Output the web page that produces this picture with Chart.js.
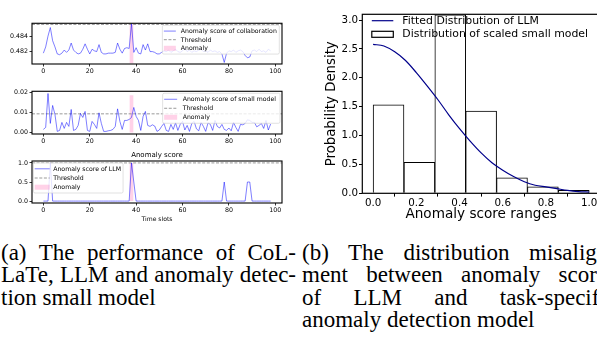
<!DOCTYPE html>
<html>
<head>
<meta charset="utf-8">
<script src="https://cdn.jsdelivr.net/npm/chart.js@4"></script>
<style>
  html, body { margin: 0; padding: 0; background: #fff; }
  #sahne { position: relative; width: 597px; height: 343px; overflow: hidden; background: #fff; }
  canvas { position: absolute; }
  .alt { position: absolute; font-family: "Liberation Serif", serif; font-size: 23px; line-height: 22.3px; color: #000; }
  .alt div { white-space: nowrap; }
  .alt .j { text-align: justify; text-align-last: justify; white-space: normal; }
</style>
</head>
<body>
<div id="sahne">
  <canvas id="c1" width="290" height="62" style="left:0;top:18px"></canvas>
  <canvas id="c2" width="290" height="62" style="left:0;top:86px"></canvas>
  <canvas id="c3" width="290" height="78" style="left:0;top:148px"></canvas>
  <canvas id="c4" width="300" height="225" style="left:300px;top:0"></canvas>
  <div class="alt" style="left:1px;top:242px;width:295px">
    <div class="j">(a) The performance of CoL-</div>
    <div class="j">LaTe, LLM and anomaly detec-</div>
    <div>tion small model</div>
  </div>
  <div class="alt" style="left:302px;top:242px;width:314px">
    <div class="j">(b) The distribution misalign-</div>
    <div class="j">ment between anomaly scores</div>
    <div class="j">of LLM and task-specific</div>
    <div>anomaly detection model</div>
  </div>
</div>
<script>
// zaman adimlari 0..98
const zamanAdimlari = Array.from({length: 99}, (_, i) => i);

const isbirligiSkoru = [
  0.4818, 0.4826, 0.4840, 0.4851, 0.4834, 0.4826, 0.4817, 0.4816, 0.4818, 0.4822,
  0.4819, 0.4822, 0.4831, 0.4822, 0.4819, 0.4817, 0.4818, 0.4823, 0.4830, 0.4823,
  0.4817, 0.4823, 0.4821, 0.4820, 0.4829, 0.4819, 0.4817, 0.4817, 0.4818, 0.4818,
  0.4818, 0.4819, 0.4831, 0.4823, 0.4818, 0.4824, 0.4825, 0.4824, 0.4856, 0.4819,
  0.4825, 0.4818, 0.4817, 0.4829, 0.4822, 0.4830, 0.4820, 0.4820, 0.4819, 0.4817,
  0.4817, 0.4819, 0.4821, 0.4820, 0.4822, 0.4819, 0.4821, 0.4823, 0.4820, 0.4819,
  0.4821, 0.4824, 0.4820, 0.4822, 0.4819, 0.4821, 0.4820, 0.4822, 0.4823, 0.4820,
  0.4821, 0.4819, 0.4822, 0.4820, 0.4821, 0.4819, 0.4820, 0.4817, 0.4806, 0.4818,
  0.4821, 0.4820, 0.4822, 0.4819, 0.4821, 0.4822, 0.4820, 0.4815, 0.4812, 0.4813,
  0.4821, 0.4822, 0.4820, 0.4823, 0.4820, 0.4821, 0.4819, 0.4823, 0.4821
];
const kucukModelSkoru = [
  0.0015, 0.0025, 0.0195, 0.0045, 0.0135, 0.0090, 0.0005, 0.0010, 0.0050, 0.0020,
  0.0050, 0.0030, 0.0115, 0.0010, 0.0015, 0.0035, 0.0095, 0.0075, 0.0105, 0.0010,
  0.0005, 0.0055, 0.0040, 0.0020, 0.0098, 0.0045, 0.0005, 0.0005, 0.0008, 0.0010,
  0.0015, 0.0030, 0.0118, 0.0055, 0.0015, 0.0060, 0.0060, 0.0065, 0.0075, 0.0125,
  0.0080, 0.0060, 0.0010, 0.0080, 0.0105, 0.0035, 0.0030, 0.0038, 0.0032, 0.0005,
  0.0012, 0.0030, 0.0045, 0.0010, 0.0005, 0.0040, 0.0015, 0.0048, 0.0010, 0.0040,
  0.0055, 0.0012, 0.0035, 0.0005, 0.0045, 0.0055, 0.0018, 0.0008, 0.0050, 0.0030,
  0.0005, 0.0048, 0.0040, 0.0010, 0.0060, 0.0030, 0.0022, 0.0040, 0.0015, 0.0010,
  0.0022, 0.0008, 0.0050, 0.0025, 0.0005, 0.0040, 0.0038, 0.0045, 0.0063, 0.0060,
  0.0050, 0.0050, 0.0028, 0.0035, 0.0045, 0.0020, 0.0060, 0.0012, 0.0042
];
const llmSkoru = [
  0, 0, 0, 1, 0, 0, 0, 0, 0, 0,
  0, 0, 0, 0, 0, 0, 0, 0, 0, 0,
  0, 0, 0, 0, 0, 0, 0, 0, 0, 0,
  0, 0, 0, 0, 0, 0, 0, 0, 1, 0.5,
  0, 0, 0, 0, 0, 0, 0, 0, 0, 0,
  0, 0, 0, 0, 0, 0, 0, 0, 0, 0,
  0, 0, 0, 0, 0, 0, 0, 0, 0, 0,
  0, 0, 0, 0, 0, 0, 0, 0, 0.5, 0,
  0, 0, 0, 0, 0, 0, 0, 0, 0.5, 0.5,
  0, 0, 0, 0, 0, 0, 0, 0, 0
];
const esikDegerleri = [0.4855, 0.0093, 1.0];
const anomaliAraligi = [37.1, 38.9];
const anomaliDikey = [[0.4805, 0.4856], [0, 0.0186], [0, 1.0]];

const zamanEksenAraligi = [-4.9, 102.9];
const zamanTikleri = [0, 20, 40, 60, 80, 100];
const y1Araligi = [0.4804, 0.48565];
const y1Tikleri = [0.482, 0.484];
const y2Araligi = [-0.0008, 0.0206];
const y2Tikleri = [0, 0.01, 0.02];
const y3Araligi = [-0.05, 1.05];
const y3Tikleri = [0, 0.5, 1.0];

// sag grafik: histogram + uydurulmus egri
const kutuKenarlari = [0, 1/7, 2/7, 3/7, 4/7, 5/7, 6/7, 1];
const kutuYogunluklari = [1.53, 0.537, 3.09, 1.426, 0.27, 0.114, 0.052];
const egriX = [0, 0.05, 0.1, 0.15, 0.2, 0.25, 0.3, 0.35, 0.4, 0.45, 0.5, 0.55, 0.6, 0.65, 0.7, 0.75, 0.8, 0.85, 0.9, 0.95, 1.0];
const egriY = [2.58, 2.55, 2.45, 2.30, 2.09, 1.86, 1.62, 1.36, 1.12, 0.90, 0.70, 0.53, 0.40, 0.29, 0.20, 0.14, 0.11, 0.08, 0.05, 0.03, 0.02];
const skorTikleri = [0, 0.2, 0.4, 0.6, 0.8, 1.0];
const yogunlukTikleri = [0, 0.5, 1.0, 1.5, 2.0, 2.5, 3.0];

const MAVI = 'rgba(0,0,255,0.5)';
const PEMBE = 'rgba(255,105,180,0.3)';
const GRI = '#808080';

Chart.defaults.font.family = 'DejaVu Sans';
Chart.defaults.color = '#000';

// grafik alaninin etrafina siyah cerceve
const cerceve = {
  id: 'cerceve',
  afterDraw(chart, args, opts) {
    const {left, top, right, bottom} = chart.chartArea;
    const ctx = chart.ctx;
    ctx.save();
    ctx.strokeStyle = '#000';
    ctx.lineWidth = opts.lw || 1;
    ctx.strokeRect(left, top, right - left, bottom - top);
    ctx.restore();
  }
};

// matplotlib tarzi, grafik icinde kutulu lejant
const kutuLejant = {
  id: 'kutuLejant',
  afterDatasetsDraw(chart, args, o) {
    if (!o.items) return;
    const ctx = chart.ctx;
    const ca = chart.chartArea;
    ctx.save();
    ctx.font = `${o.fontSize}px "DejaVu Sans"`;
    let maxW = 0;
    o.items.forEach(it => { maxW = Math.max(maxW, ctx.measureText(it.label).width); });
    const w = o.pad + o.handle + o.gap + maxW + o.padR;
    const h = o.pad * 2 + o.rowH * o.items.length;
    const x0 = o.side === 'right' ? ca.right - o.dx - w : ca.left + o.dx;
    const y0 = ca.top + o.dy;
    if (o.frame) {
      ctx.fillStyle = 'rgba(255,255,255,0.8)';
      ctx.strokeStyle = '#cccccc';
      ctx.lineWidth = 0.6;
      ctx.beginPath();
      ctx.roundRect(x0, y0, w, h, 1.5);
      ctx.fill();
      ctx.stroke();
    }
    o.items.forEach((it, i) => {
      const cy = y0 + o.pad + o.rowH * (i + 0.5);
      const hx = x0 + o.pad;
      if (it.type === 'line') {
        ctx.strokeStyle = it.color;
        ctx.lineWidth = it.lw || 1;
        ctx.setLineDash(it.dash || []);
        ctx.beginPath();
        ctx.moveTo(hx, cy);
        ctx.lineTo(hx + o.handle, cy);
        ctx.stroke();
        ctx.setLineDash([]);
      } else {
        const ph = it.ph || o.rowH * 0.7;
        if (it.fill) { ctx.fillStyle = it.fill; ctx.fillRect(hx, cy - ph / 2, o.handle, ph); }
        if (it.stroke) { ctx.strokeStyle = it.stroke; ctx.lineWidth = it.lw || 1; ctx.strokeRect(hx, cy - ph / 2, o.handle, ph); }
      }
      ctx.fillStyle = '#000';
      ctx.textBaseline = 'middle';
      ctx.textAlign = 'left';
      ctx.fillText(it.label, hx + o.handle + o.gap, cy + 0.3);
    });
    ctx.restore();
  }
};

Chart.register(cerceve, kutuLejant);

function tikler(liste) {
  return axis => { axis.ticks = liste.map(v => ({value: v})); };
}

function solEksenler(yAraligi, yTikleri, basamak, xYukseklik, xBaslik) {
  return {
    x: {
      type: 'linear', min: zamanEksenAraligi[0], max: zamanEksenAraligi[1], offset: false,
      afterBuildTicks: tikler(zamanTikleri),
      afterFit: s => { s.height = xYukseklik; },
      grid: {drawOnChartArea: false, drawTicks: true, tickLength: 2.5, color: '#000', lineWidth: 0.8},
      border: {display: false},
      ticks: {font: {size: 6.3}, padding: 1, maxRotation: 0, autoSkip: false, callback: v => String(v)},
      title: xBaslik ? {display: true, text: xBaslik, font: {size: 6.1}, padding: {top: 0, bottom: 3.3}} : {display: false}
    },
    y: {
      min: yAraligi[0], max: yAraligi[1],
      afterBuildTicks: tikler(yTikleri),
      afterFit: s => { s.width = 32; },
      grid: {drawOnChartArea: false, drawTicks: true, tickLength: 2.5, color: '#000', lineWidth: 0.8},
      border: {display: false},
      ticks: {font: {size: 6.3}, padding: 1.5, autoSkip: false, callback: v => v.toFixed(basamak)}
    }
  };
}

function solVeri(seri, idx) {
  return {
    datasets: [
      {
        data: seri.map((v, i) => ({x: zamanAdimlari[i], y: v})),
        borderColor: MAVI, borderWidth: 1, pointRadius: 0, tension: 0, order: 1
      },
      {
        data: zamanEksenAraligi.map(x => ({x: x, y: esikDegerleri[idx]})),
        borderColor: GRI, borderWidth: 0.8, borderDash: [3, 1.6], pointRadius: 0, order: 2
      },
      {
        data: anomaliAraligi.map(x => ({x: x, y: anomaliDikey[idx][1]})),
        fill: {value: anomaliDikey[idx][0]}, backgroundColor: PEMBE,
        borderWidth: 0, pointRadius: 0, order: 3
      }
    ]
  };
}

function lejantOgeleri(ad) {
  return [
    {type: 'line', color: MAVI, lw: 1, label: ad},
    {type: 'line', color: GRI, lw: 0.8, dash: [3, 1.6], label: 'Threshold'},
    {type: 'patch', fill: PEMBE, ph: 5, label: 'Anomaly'}
  ];
}

new Chart(document.getElementById('c1'), {
  type: 'line',
  data: solVeri(isbirligiSkoru, 0),
  options: {
    responsive: false, animation: false,
    layout: {padding: {top: 5, right: 8, left: 0, bottom: 0}},
    scales: solEksenler(y1Araligi, y1Tikleri, 3, 16, null),
    plugins: {
      legend: {display: false}, tooltip: {enabled: false},
      cerceve: {lw: 1.1},
      kutuLejant: {items: lejantOgeleri('Anomaly score of collaboration'), fontSize: 6.2, rowH: 8.6,
        pad: 1.5, padR: 2.5, handle: 12, gap: 5, side: 'right', dx: 2.7, dy: 2, frame: true}
    }
  }
});

new Chart(document.getElementById('c2'), {
  type: 'line',
  data: solVeri(kucukModelSkoru, 1),
  options: {
    responsive: false, animation: false,
    layout: {padding: {top: 5, right: 8, left: 0, bottom: 0}},
    scales: solEksenler(y2Araligi, y2Tikleri, 2, 14, null),
    plugins: {
      legend: {display: false}, tooltip: {enabled: false},
      cerceve: {lw: 1.1},
      kutuLejant: {items: lejantOgeleri('Anomaly score of small model'), fontSize: 6.2, rowH: 9,
        pad: 1.5, padR: 4, handle: 13, gap: 5.5, side: 'right', dx: 2, dy: 2, frame: true}
    }
  }
});

new Chart(document.getElementById('c3'), {
  type: 'line',
  data: solVeri(llmSkoru, 2),
  options: {
    responsive: false, animation: false,
    layout: {padding: {top: 0, right: 8, left: 0, bottom: 0}},
    scales: solEksenler(y3Araligi, y3Tikleri, 1, 23, 'Time slots'),
    plugins: {
      legend: {display: false}, tooltip: {enabled: false},
      title: {display: true, text: 'Anomaly score', fullSize: false, font: {size: 7, weight: 'normal'},
        color: '#000', padding: {top: 2.8, bottom: 1.8}},
      cerceve: {lw: 1.1},
      kutuLejant: {items: lejantOgeleri('Anomaly score of LLM'), fontSize: 6.2, rowH: 9.2,
        pad: 1.2, padR: 2, handle: 15, gap: 3.5, side: 'left', dx: 1.5, dy: 2, frame: true}
    }
  }
});

// histogram cubuklari kutu merkezlerinde
const kutuVerisi = kutuYogunluklari.map((y, i) => ({x: (kutuKenarlari[i] + kutuKenarlari[i + 1]) / 2, y: y}));

new Chart(document.getElementById('c4'), {
  type: 'bar',
  data: {
    datasets: [
      {
        type: 'bar', data: kutuVerisi,
        backgroundColor: '#ffffff', borderColor: '#000', borderWidth: 1,
        barPercentage: 1, categoryPercentage: 1, grouped: false, order: 2
      },
      {
        type: 'line', data: egriX.map((x, i) => ({x: x, y: egriY[i]})),
        borderColor: '#00008b', borderWidth: 1.2, pointRadius: 0, cubicInterpolationMode: 'monotone', order: 1
      }
    ]
  },
  options: {
    responsive: false, animation: false,
    layout: {padding: {top: 14.3, right: 0, left: 0, bottom: 0}},
    scales: {
      x: {
        type: 'linear', min: -0.05, max: 1.05, offset: false,
        afterBuildTicks: tikler(skorTikleri),
        afterFit: s => { s.height = 31.7; },
        grid: {drawOnChartArea: false, drawTicks: true, tickLength: 3.3, color: '#000', lineWidth: 1},
        border: {display: false},
        ticks: {font: {size: 10.3}, padding: 1, maxRotation: 0, autoSkip: false, callback: v => v.toFixed(1)},
        title: {display: true, text: 'Anomaly score ranges', font: {size: 13.6}, padding: {top: 0, bottom: 2}}
      },
      y: {
        min: 0, max: 3.1,
        afterBuildTicks: tikler(yogunlukTikleri),
        afterFit: s => { s.width = 62.3; },
        grid: {drawOnChartArea: false, drawTicks: true, tickLength: 3.3, color: '#000', lineWidth: 1},
        border: {display: false},
        ticks: {font: {size: 10.3}, padding: 1, autoSkip: false, callback: v => v.toFixed(1)},
        title: {display: true, text: 'Probability Density', font: {size: 13.3}, padding: {top: 24, bottom: 0}}
      }
    },
    plugins: {
      legend: {display: false}, tooltip: {enabled: false},
      cerceve: {lw: 1.2},
      kutuLejant: {items: [
          {type: 'line', color: '#00008b', lw: 1.2, label: 'Fitted Distribution of LLM'},
          {type: 'patch', fill: '#ffffff', stroke: '#000', lw: 1.2, ph: 6, label: 'Distribution of scaled small model'}
        ], fontSize: 10.9, rowH: 13.6, pad: 0, padR: 0, handle: 21.5, gap: 9, side: 'left', dx: 9.5, dy: -0.4, frame: false}
    }
  }
});
</script>
</body>
</html>
